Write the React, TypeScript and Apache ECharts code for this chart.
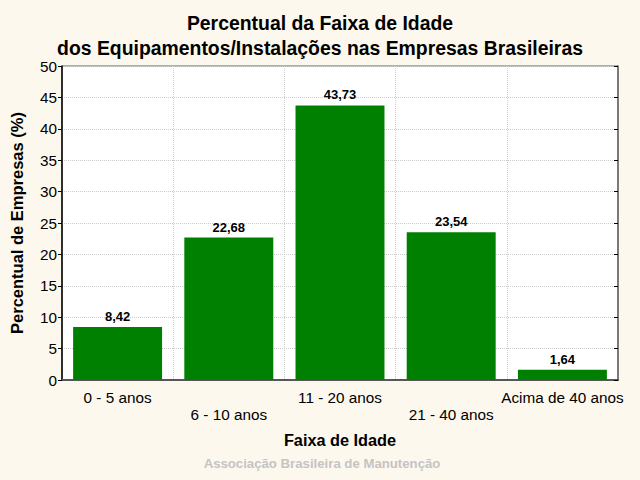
import React, { useEffect, useRef } from "react";
import * as echarts from "echarts";

const categories = ["0 - 5 anos", "6 - 10 anos", "11 - 20 anos", "21 - 40 anos", "Acima de 40 anos"];
const values = [8.42, 22.68, 43.73, 23.54, 1.64];
const titleLines = ["Percentual da Faixa de Idade", "dos Equipamentos/Instalações nas Empresas Brasileiras"];
const xName = "Faixa de Idade";
const yName = "Percentual de Empresas (%)";
const footer = "Associação Brasileira de Manutenção";

export default function App() {
  const ref = useRef<HTMLDivElement>(null);
  useEffect(() => {
    if (!ref.current) return;
    const chart = echarts.init(ref.current, undefined, { renderer: "svg" });
    const font = "Liberation Sans, Arial, sans-serif";
    chart.setOption({
      animation: false,
      backgroundColor: "#FDF8EE",
      textStyle: { fontFamily: font },
      title: [
        {
          text: titleLines.join("\n"),
          left: "center",
          top: 5,
          textStyle: { fontSize: 19.4, fontWeight: "bold", color: "#000", lineHeight: 25, fontFamily: font },
        },
        {
          text: footer,
          left: 317,
          textAlign: "center",
          top: 452,
          textStyle: { fontSize: 13.2, fontWeight: "bold", color: "#C4C4C4", fontFamily: font },
        },
      ],
      grid: { left: 61, right: 22, top: 66, bottom: 100, show: true, backgroundColor: "#fff", borderColor: "#666", borderWidth: 1 },
      xAxis: [
        {
          type: "category",
          data: categories,
          name: xName,
          nameLocation: "middle",
          nameGap: 52,
          nameTextStyle: { fontSize: 16.3, fontWeight: "bold", color: "#000", fontFamily: font },
          axisLine: { lineStyle: { color: "#000", width: 1.5 } },
          axisTick: { inside: true, length: 4, lineStyle: { color: "#000" } },
          axisLabel: {
            color: "#000",
            fontSize: 15.3,
            margin: 9,
            interval: 0,
            lineHeight: 17,
            formatter: (v: string, i: number) => (i % 2 === 1 ? "\n" + v : v),
          },
          splitLine: { show: true, lineStyle: { color: "#ccc", type: "dotted" } },
        },
        {
          type: "category",
          data: categories,
          position: "top",
          axisLine: { lineStyle: { color: "#666", width: 1.5 } },
          axisTick: { inside: true, length: 4, lineStyle: { color: "#000" } },
          axisLabel: { show: false },
        },
      ],
      yAxis: [
        {
          type: "value",
          min: 0,
          max: 50,
          interval: 5,
          name: yName,
          nameLocation: "middle",
          nameGap: 37,
          nameTextStyle: { fontSize: 16.5, fontWeight: "bold", color: "#000", fontFamily: font },
          axisLine: { show: true, lineStyle: { color: "#000", width: 1.5 } },
          axisTick: { show: true, length: 4, lineStyle: { color: "#000" } },
          axisLabel: { color: "#000", fontSize: 15.3, margin: 5 },
          splitLine: { show: true, lineStyle: { color: "#ccc", type: "dotted" } },
        },
        {
          type: "value",
          min: 0,
          max: 50,
          interval: 5,
          position: "right",
          axisLine: { show: true, lineStyle: { color: "#666", width: 1.5 } },
          axisTick: { show: true, inside: true, length: 4, lineStyle: { color: "#000" } },
          axisLabel: { show: false },
          splitLine: { show: false },
        },
      ],
      series: [
        {
          type: "bar",
          data: values,
          barCategoryGap: "20%",
          itemStyle: { color: "#008000" },
          label: {
            show: true,
            position: "top",
            distance: 4,
            fontSize: 13,
            fontWeight: "bold",
            color: "#000",
            formatter: (p: any) => p.value.toFixed(2).replace(".", ","),
          },
        },
      ],
    });
    return () => chart.dispose();
  }, []);
  return <div ref={ref} style={{ width: 640, height: 480, position: "absolute", left: 0, top: 0 }} />;
}
